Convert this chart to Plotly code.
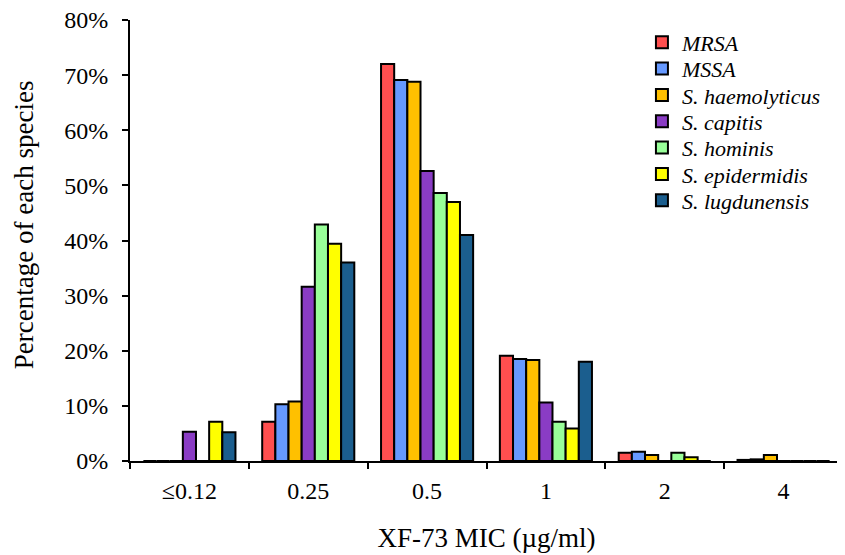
import plotly.graph_objects as go

categories = ["≤0.12", "0.25", "0.5", "1", "2", "4"]
species = ["MRSA", "MSSA", "S. haemolyticus", "S. capitis", "S. hominis", "S. epidermidis", "S. lugdunensis"]
colors = ["#FF4F4F", "#6699FF", "#FFC000", "#8A3CC4", "#99FF99", "#FFFF00", "#1B5E8E"]

mrsa = [0, 7.1, 72.0, 19.1, 1.5, 0.2]
mssa = [0, 10.3, 69.1, 18.5, 1.7, 0.3]
haemolyticus = [0, 10.8, 68.8, 18.3, 1.1, 1.1]
capitis = [5.3, 31.6, 52.6, 10.6, 0, 0]
hominis = [0, 42.9, 48.6, 7.1, 1.5, 0]
epidermidis = [7.1, 39.4, 47.0, 5.9, 0.7, 0]
lugdunensis = [5.2, 36.0, 41.0, 18.0, 0, 0]

y_ticks = [0, 10, 20, 30, 40, 50, 60, 70, 80]
y_tick_labels = [f"{v}%" for v in y_ticks]

series = [mrsa, mssa, haemolyticus, capitis, hominis, epidermidis, lugdunensis]

font_family = "Liberation Serif"
fig = go.Figure()
legend_layouts = {}
first_y = 0.949
row_step = 0.0597
for i, (name, vals, col) in enumerate(zip(species, series, colors)):
    lg = "legend" if i == 0 else f"legend{i+1}"
    fig.add_trace(go.Bar(
        x=categories, y=vals, name=name, legend=lg,
        marker=dict(color=col, line=dict(color="black", width=2)),
    ))
    legend_layouts[lg] = dict(
        x=0.718, y=first_y - i * row_step, xanchor="left", yanchor="middle",
        font=dict(family=font_family, size=22, style="italic"),
        bgcolor="rgba(0,0,0,0)", itemwidth=30,
    )

fig.update_layout(
    width=837, height=547,
    margin=dict(l=122, r=2, t=12, b=94),
    plot_bgcolor="white", paper_bgcolor="white",
    barmode="group", bargap=0.225, bargroupgap=0,
    font=dict(family=font_family, size=24, color="black"),
    showlegend=True,
    xaxis=dict(
        type="category", showline=True, linecolor="black", linewidth=2,
        ticks="outside", tickson="boundaries", ticklen=6, tickwidth=2, tickcolor="black",
        tickfont=dict(size=24), showgrid=False, automargin=False, ticklabelstandoff=7,
        title=dict(text="XF-73 MIC (µg/ml)", font=dict(size=27), standoff=25),
    ),
    yaxis=dict(
        range=[0, 80], tickmode="array", tickvals=y_ticks, ticktext=y_tick_labels,
        showline=True, linecolor="black", linewidth=2,
        ticks="outside", ticklen=6, tickwidth=2, tickcolor="black",
        tickfont=dict(size=24), showgrid=False, zeroline=False, automargin=False,
        ticklabelstandoff=9, ticklabeloverflow="allow",
    ),
    annotations=[dict(
        text="Percentage of each species", textangle=-90, showarrow=False,
        xref="paper", yref="paper", x=-0.1487, y=0.537,
        xanchor="center", yanchor="middle",
        font=dict(family=font_family, size=27, color="black"),
    )],
    **legend_layouts,
)

fig.write_html("out.html")
